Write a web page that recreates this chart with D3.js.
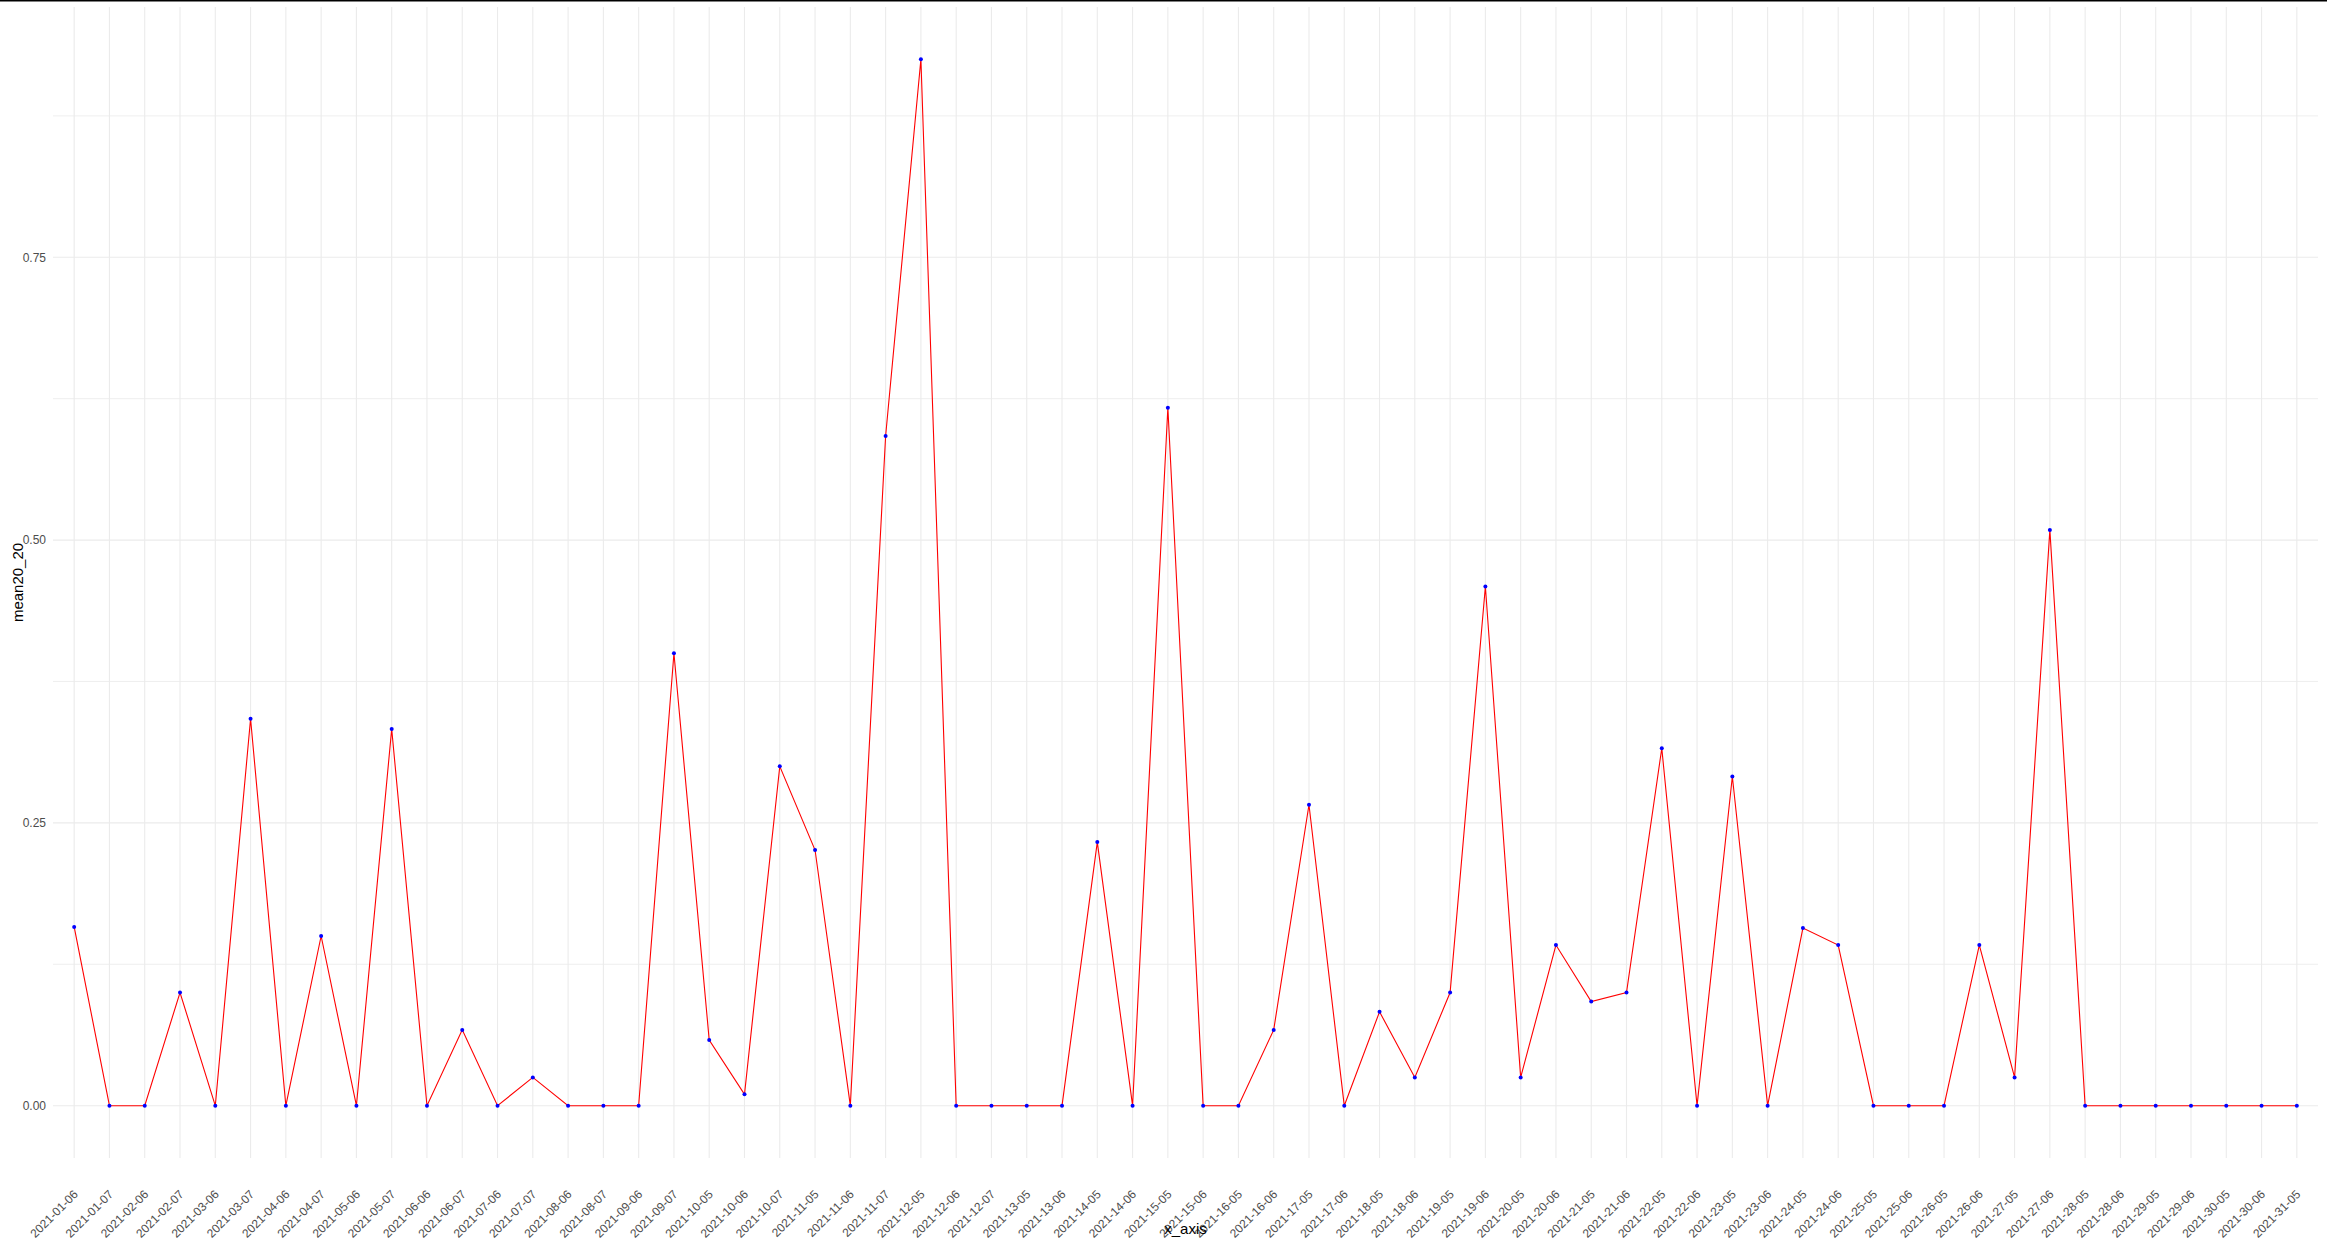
<!DOCTYPE html>
<html>
<head>
<meta charset="utf-8">
<script src="https://cdn.jsdelivr.net/npm/d3@7"></script>
<style>
  html, body { margin: 0; padding: 0; background: #fff; }
  svg { display: block; font-family: "Liberation Sans", Arial, sans-serif; }
</style>
</head>
<body>
<svg id="chart" width="2327" height="1245"></svg>
<script>
// categories on the x axis
const xLabels = [
  '2021-01-06', '2021-01-07', '2021-02-06', '2021-02-07', '2021-03-06', '2021-03-07',
  '2021-04-06', '2021-04-07', '2021-05-06', '2021-05-07', '2021-06-06', '2021-06-07',
  '2021-07-06', '2021-07-07', '2021-08-06', '2021-08-07', '2021-09-06', '2021-09-07',
  '2021-10-05', '2021-10-06', '2021-10-07', '2021-11-05', '2021-11-06', '2021-11-07',
  '2021-12-05', '2021-12-06', '2021-12-07', '2021-13-05', '2021-13-06', '2021-14-05',
  '2021-14-06', '2021-15-05', '2021-15-06', '2021-16-05', '2021-16-06', '2021-17-05',
  '2021-17-06', '2021-18-05', '2021-18-06', '2021-19-05', '2021-19-06', '2021-20-05',
  '2021-20-06', '2021-21-05', '2021-21-06', '2021-22-05', '2021-22-06', '2021-23-05',
  '2021-23-06', '2021-24-05', '2021-24-06', '2021-25-05', '2021-25-06', '2021-26-05',
  '2021-26-06', '2021-27-05', '2021-27-06', '2021-28-05', '2021-28-06', '2021-29-05',
  '2021-29-06', '2021-30-05', '2021-30-06', '2021-31-05'
];

// mean20_20 values
const mean20 = [
  0.158, 0, 0, 0.100, 0, 0.342,
  0, 0.150, 0, 0.333, 0, 0.067,
  0, 0.025, 0, 0, 0, 0.400,
  0.058, 0.010, 0.300, 0.226, 0, 0.592,
  0.925, 0, 0, 0, 0, 0.233,
  0, 0.617, 0, 0, 0.067, 0.266,
  0, 0.083, 0.025, 0.100, 0.459, 0.025,
  0.142, 0.092, 0.100, 0.316, 0, 0.291,
  0, 0.157, 0.142, 0, 0, 0,
  0.142, 0.025, 0.509, 0, 0, 0,
  0, 0, 0, 0
];

const yTicks = [0, 0.25, 0.5, 0.75];
const yMinor = [0.125, 0.375, 0.625, 0.875];

const data = xLabels.map((k, i) => ({ key: k, value: mean20[i] }));

const svg = d3.select('#chart');
const margin = { top: 7, right: 9, bottom: 87, left: 53 };
const width = 2327 - margin.left - margin.right,
  height = 1245 - margin.top - margin.bottom;

// ggplot-style discrete expansion (0.6 of a step each side)
const x = d3.scalePoint().domain(xLabels)
  .range([0, width]).padding(0.6);

const yMax = d3.max(mean20);
const pad = yMax * 0.05;
const y = d3.scaleLinear().domain([-pad, yMax + pad]).range([height, 0]);

// top border line
svg.append('line')
  .attr('x1', 0).attr('x2', 2327)
  .attr('y1', 0.75).attr('y2', 0.75)
  .attr('stroke', '#000').attr('stroke-width', 1.5);

const g = svg.append('g')
  .attr('transform', `translate(${margin.left},${margin.top})`);

// grid
g.selectAll('.minor')
  .data(yMinor)
  .enter().append('line')
  .attr('class', 'minor')
  .attr('x1', 0).attr('x2', width)
  .attr('y1', d => y(d)).attr('y2', d => y(d))
  .attr('stroke', '#ebebeb').attr('stroke-width', 0.8);

g.selectAll('.gx')
  .data(xLabels)
  .enter().append('line')
  .attr('class', 'gx')
  .attr('x1', d => x(d)).attr('x2', d => x(d))
  .attr('y1', 0).attr('y2', height)
  .attr('stroke', '#ebebeb').attr('stroke-width', 1.1);

g.selectAll('.gy')
  .data(yTicks)
  .enter().append('line')
  .attr('class', 'gy')
  .attr('x1', 0).attr('x2', width)
  .attr('y1', d => y(d)).attr('y2', d => y(d))
  .attr('stroke', '#ebebeb').attr('stroke-width', 1.1);

// y axis
const yAxis = g.append('g')
  .call(d3.axisLeft(y).tickValues(yTicks).tickFormat(d3.format('.2f')).tickSize(0).tickPadding(7));
yAxis.select('.domain').remove();
yAxis.selectAll('text')
  .attr('fill', '#4d4d4d')
  .style('font-size', '12px');

// x axis
const xAxis = g.append('g')
  .attr('transform', `translate(0,${height})`)
  .call(d3.axisBottom(x).tickSize(0).tickPadding(0));
xAxis.select('.domain').remove();
xAxis.selectAll('text')
  .attr('fill', '#4d4d4d')
  .style('font-size', '12px')
  .attr('text-anchor', 'end')
  .attr('dy', null)
  .attr('y', null)
  .attr('transform', 'translate(4,37) rotate(-45)');

// line + points
const line = d3.line()
  .x(d => x(d.key))
  .y(d => y(d.value));

g.append('path')
  .datum(data)
  .attr('fill', 'none')
  .attr('stroke', 'red')
  .attr('stroke-width', 1.1)
  .attr('d', line);

g.selectAll('.pt')
  .data(data)
  .enter().append('circle')
  .attr('class', 'pt')
  .attr('cx', d => x(d.key))
  .attr('cy', d => y(d.value))
  .attr('r', 2)
  .attr('fill', 'blue');

// axis titles
svg.append('text')
  .attr('x', margin.left + width / 2)
  .attr('y', 1234)
  .attr('text-anchor', 'middle')
  .style('font-size', '15px')
  .text('x_axis');

svg.append('text')
  .attr('transform', `translate(23,${margin.top + height / 2}) rotate(-90)`)
  .attr('text-anchor', 'middle')
  .style('font-size', '15px')
  .text('mean20_20');
</script>
</body>
</html>
